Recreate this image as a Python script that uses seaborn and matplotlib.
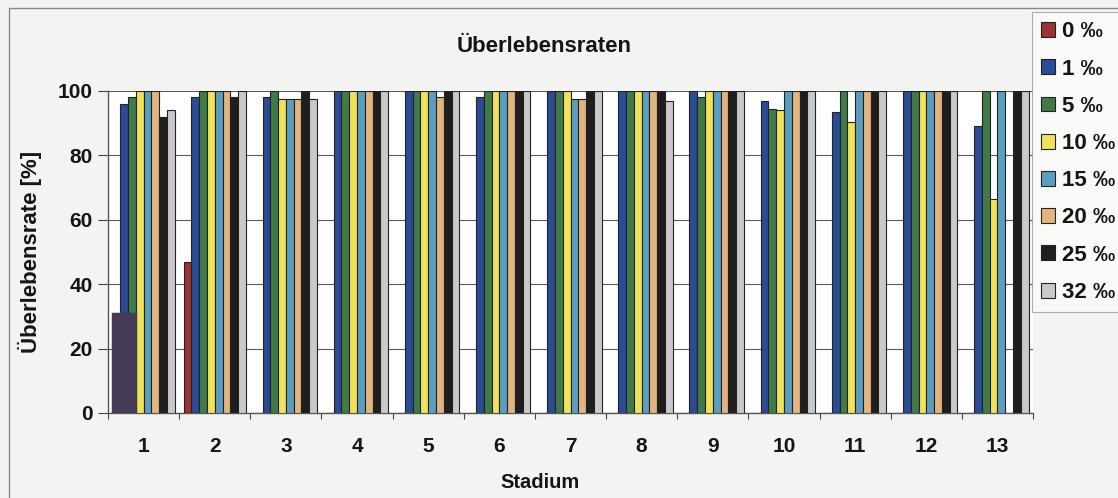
import numpy as np
import pandas as pd
import seaborn as sns
import matplotlib
matplotlib.use("Agg")
import matplotlib.pyplot as plt
from matplotlib.patches import Rectangle

# Survival rates (%) per development stage and salinity
stages = [str(i) for i in range(1, 14)]
salinities = ["0 ‰", "1 ‰", "5 ‰", "10 ‰", "15 ‰", "20 ‰", "25 ‰", "32 ‰"]

s0 = [31, 47, 0, 0, 0, 0, 0, 0, 0, 0, 0, 0, 0]
s1 = [96, 98, 98, 100, 100, 98, 100, 100, 100, 97, 93.5, 100, 89]
s5 = [98, 100, 100, 100, 100, 100, 100, 100, 98, 94.5, 100, 100, 100]
s10 = [100, 100, 97.5, 100, 100, 100, 100, 100, 100, 94, 90.5, 100, 66.5]
s15 = [100, 100, 97.5, 100, 100, 100, 97.5, 100, 100, 100, 100, 100, 100]
s20 = [100, 100, 97.5, 100, 98, 100, 97.5, 100, 100, 100, 100, 100, 0]
s25 = [92, 98, 100, 100, 100, 100, 100, 100, 100, 100, 100, 100, 100]
s32 = [94, 100, 97.5, 100, 100, 100, 100, 97, 100, 100, 100, 100, 100]

series = [s0, s1, s5, s10, s15, s20, s25, s32]
colors = ["#9b3236", "#2b4b95", "#3f7a48", "#f1e25b", "#5b9ec0",
          "#e2b47f", "#1f1d1e", "#c9c9c9"]

rows = []
for sal, vals in zip(salinities, series):
    for st, v in zip(stages, vals):
        rows.append({"Stadium": st, "Salinität": sal, "Rate": v})
df = pd.DataFrame(rows)

sns.set_theme(style="white")
plt.rcParams["font.family"] = ["Liberation Sans", "DejaVu Sans"]
plt.rcParams["font.weight"] = "bold"

TXT = "#151515"

fig = plt.figure(figsize=(11.18, 4.98), dpi=100, facecolor="#f3f3f1")
ax = fig.add_axes([0.0966, 0.1707, 0.8274, 0.6466])
ax.set_facecolor("white")

sns.barplot(data=df, x="Stadium", y="Rate", hue="Salinität",
            hue_order=salinities, order=stages, palette=colors,
            width=0.875, edgecolor="#222222", linewidth=0.8,
            saturation=1, legend=True, ax=ax, zorder=3)

# dark block over the lower part of the first stage group
p0 = ax.containers[0].patches[0]
p2 = ax.containers[2].patches[0]
ax.add_patch(Rectangle((p0.get_x(), 0), p2.get_x() + p2.get_width() - p0.get_x(),
                       p0.get_height(), facecolor="#463c5a", edgecolor="#463c5a",
                       zorder=4))

ax.set_xlim(-0.5, 12.5)
ax.set_ylim(0, 100)
ax.set_yticks([0, 20, 40, 60, 80, 100])
ax.yaxis.grid(True, color="#5a5a5a", linewidth=0.8)
ax.set_axisbelow(True)
ax.set_xticks(np.arange(-0.5, 13, 1), minor=True)
ax.tick_params(axis="x", which="major", length=0, pad=17, labelsize=15)
ax.tick_params(axis="x", which="minor", length=4, width=0.8, color="#444444",
               direction="out", bottom=True)
ax.tick_params(axis="y", length=7, width=0.8, color="#444444", left=True,
               direction="out", labelsize=15, pad=4)
for lbl in ax.get_xticklabels() + ax.get_yticklabels():
    lbl.set_fontweight("bold")
    lbl.set_color(TXT)

for side in ["top", "right"]:
    ax.spines[side].set_visible(False)
for side in ["left", "bottom"]:
    ax.spines[side].set_color("#555555")
    ax.spines[side].set_linewidth(1.0)

ax.set_title("Überlebensraten", fontsize=16, fontweight="bold", pad=28,
             color=TXT, x=0.472)
ax.set_xlabel("Stadium", fontsize=14.5, fontweight="bold", color=TXT)
ax.xaxis.set_label_coords(0.467, -0.185)
ax.set_ylabel("Überlebensrate [%]", fontsize=16, fontweight="bold",
              labelpad=11, color=TXT)

handles, labels = ax.get_legend_handles_labels()
ax.get_legend().remove()
leg = fig.legend(handles, labels, loc="upper left",
                 bbox_to_anchor=(0.923, 0.975), bbox_transform=fig.transFigure,
                 frameon=True, fancybox=False, edgecolor="#999999",
                 prop={"weight": "bold", "size": 16},
                 handlelength=0.65, handleheight=0.65, handletextpad=0.3,
                 labelspacing=0.73, borderpad=0.4, borderaxespad=0)
leg.get_frame().set_linewidth(0.8)
leg.get_frame().set_facecolor("#fbfbfa")
for t in leg.get_texts():
    t.set_color(TXT)

# chart frame
fig.add_artist(Rectangle((0.008, -0.01), 1.0, 0.994, transform=fig.transFigure,
                         fill=False, edgecolor="#888888", linewidth=1.0))

fig.savefig("out.png", dpi=100, facecolor=fig.get_facecolor())
